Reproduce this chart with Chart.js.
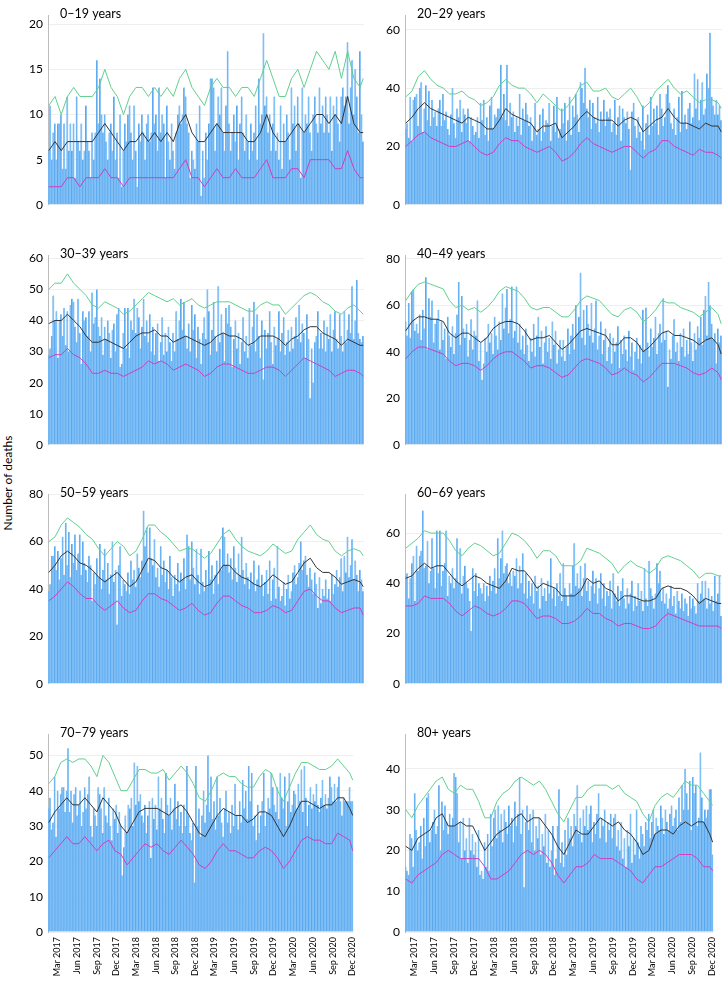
<!DOCTYPE html>
<html>
<head>
<meta charset="utf-8">
<script src="https://cdn.jsdelivr.net/npm/chart.js@4.4.0/dist/chart.umd.min.js"></script>
<style>
  body { margin: 0; background: #fff; width: 728px; height: 982px; position: relative; overflow: hidden; font-family: Lato, sans-serif; }
  .panel { position: absolute; }
  #ylab { position: absolute; left: -52px; top: 475px; width: 120px; height: 16px; line-height: 16px;
          text-align: center; font-size: 12px; color: #000; transform: rotate(-90deg); }
</style>
</head>
<body>
<div id="ylab">Number of deaths</div>
<script>
// weekly counts, first week starts 16 Jan 2017 (203 weeks)
const startDate = Date.UTC(2017, 0, 16)
const weekCount = 203

const ageGroups = ['0–19 years', '20–29 years', '30–39 years', '40–49 years',
                   '50–59 years', '60–69 years', '70–79 years', '80+ years']

const tickLabels = ['Mar 2017', 'Jun 2017', 'Sep 2017', 'Dec 2017', 'Mar 2018', 'Jun 2018', 'Sep 2018', 'Dec 2018',
                    'Mar 2019', 'Jun 2019', 'Sep 2019', 'Dec 2019', 'Mar 2020', 'Jun 2020', 'Sep 2020', 'Dec 2020']

// ---- 0–19
const deaths_0_19 = [
  6,11,5,8,9,5,9,9,10,4, 9,4,12,6,9,6,9,3,12,7, 6,9,5,6,11,7,6,3,8,5, 8,16,9,14,10,8,10,7,5,8,
  9,6,12,5,8,3,10,2,6,9, 7,10,11,8,5,11,6,2,9,7, 10,8,5,9,10,7,8,13,9,10, 6,13,8,10,9,3,11,7,5,9,
  6,4,8,10,11,9,10,13,12,9, 8,3,6,5,4,9,7,11,1,6, 3,8,5,9,14,14,13,6,9,12, 10,13,8,6,11,17,9,6,8,10,
  7,11,5,9,12,8,6,10,7,5, 9,6,8,11,5,14,9,10,19,11, 12,8,10,6,9,12,6,8,5,11, 4,9,7,10,8,5,13,9,11,6,
  12,9,3,13,8,10,9,12,8,6, 10,12,9,8,13,9,11,8,12,10, 8,12,6,11,10,12,9,7,12,13, 11,12,18,9,13,16,10,15,12,8,
  17,10,7]
const upper_0_19 = [11,12,10,12,13,12,12,12,13,15, 13,12,10,12,13,13,12,13,12,13, 12,14,15,13,12,11,13,14,13,13,
  12,13,13,12,14,16,14,12,12,14, 15,13,15,17,16,15,17,14,17,14, 13,14]
const median_0_19 = [6,7,6,7,7,7,7,7,8,9, 8,7,6,7,7,8,7,8,7,8, 7,9,10,8,7,7,8,9,8,8,
  8,8,7,7,8,10,8,7,7,8, 9,8,9,10,10,9,10,9,12,9, 8,8]
const lower_0_19 = [2,2,2,3,3,2,3,3,3,4, 3,3,2,3,3,3,3,3,3,3, 3,4,5,3,3,2,3,4,3,3,
  4,3,3,3,4,5,3,3,3,4, 4,3,5,5,5,5,4,4,6,4, 3,3]

// ---- 20–29
const deaths_20_29 = [
  26,28,23,37,22,36,37,38,27,40, 42,25,33,41,29,39,27,36,30,32, 27,33,36,27,38,29,32,26,24,31, 40,28,23,33,30,36,25,33,31,28,
  33,22,30,27,24,25,30,23,35,29, 36,24,30,22,34,37,26,31,30,33, 33,48,30,38,29,48,27,35,30,32, 25,30,27,38,24,33,29,35,31,27,
  30,22,27,35,24,26,31,22,33,25, 29,28,35,22,27,34,25,37,23,26, 33,28,35,22,29,37,24,34,30,38, 31,25,42,40,35,47,33,30,36,26,
  35,30,28,37,25,32,29,36,27,32, 30,33,25,28,36,24,30,34,22,33, 30,28,32,26,12,32,35,27,23,30, 25,22,34,19,28,31,24,37,27,33,
  28,34,24,38,33,27,30,38,41,35, 28,26,33,24,30,37,25,39,28,31, 26,33,35,28,30,45,33,43,29,36, 42,31,33,45,40,59,37,34,31,36,
  31,34,29]
const upper_20_29 = [37,39,44,46,43,41,40,38,38,39, 37,36,34,35,37,41,43,41,40,40, 38,35,38,36,34,32,34,37,41,42,
  39,39,40,37,36,38,40,37,33,35, 39,41,43,40,38,39,37,35,36,36, 35,33]
const median_20_29 = [28,30,33,35,33,32,31,30,29,28, 30,29,28,26,26,29,33,31,30,29, 28,25,27,27,28,23,25,27,30,32,
  30,29,29,29,27,29,30,29,25,27, 29,30,33,30,28,28,27,26,28,27, 27,25]
const lower_20_29 = [20,22,24,25,23,22,21,20,20,21, 22,20,18,17,18,21,23,22,22,20, 19,18,19,20,18,15,16,18,21,23,
  21,20,19,18,19,20,20,18,16,18, 19,22,22,20,19,18,17,19,18,18, 17,16]

// ---- 30–39
const deaths_30_39 = [
  29,31,35,48,40,43,28,40,42,35, 44,32,43,30,45,47,46,38,33,47, 36,26,43,40,41,35,43,30,49,39, 41,50,38,35,41,29,38,34,40,36,
  28,37,39,30,42,44,25,26,36,44, 31,44,28,40,37,47,36,44,41,31, 38,47,35,40,33,42,30,38,29,36, 39,27,33,41,29,36,30,38,33,27,
  36,30,43,34,40,47,37,46,35,31, 39,30,45,37,42,28,38,34,26,36, 41,34,50,43,29,37,46,35,30,51, 33,42,36,27,44,39,45,38,25,34,
  40,31,36,26,33,41,30,35,28,44, 32,38,46,30,42,35,28,40,21,37, 31,36,43,33,26,38,32,34,43,30, 36,41,29,33,37,30,38,31,35,41,
  34,45,33,39,36,28,42,34,15,31, 20,33,35,43,31,36,31,40,30,38, 34,42,30,37,43,34,31,42,35,30, 43,33,37,42,36,51,34,40,53,36,
  34,33,35]
const upper_30_39 = [50,52,52,55,52,50,48,45,44,46, 45,44,42,43,45,47,49,48,47,46, 47,45,46,47,45,44,45,46,46,46,
  45,44,43,43,45,46,45,45,42,44, 46,48,49,48,46,45,43,42,44,45, 43,42]
const median_30_39 = [39,40,40,42,40,38,35,33,33,34, 33,32,31,33,35,36,36,37,35,35, 33,34,35,34,33,32,33,35,36,35,
  35,34,32,33,35,35,35,34,32,34, 35,37,38,38,36,35,34,32,34,33, 32,32]
const lower_30_39 = [28,29,29,31,29,28,26,23,23,24, 23,23,22,23,24,25,27,26,27,26, 24,25,26,25,24,22,23,25,26,26,
  25,24,23,23,24,25,25,24,22,24, 26,28,27,26,25,24,22,23,24,24, 23,22]

// ---- 40–49
const deaths_40_49 = [
  53,47,61,46,66,67,49,52,48,56, 45,58,50,72,41,63,55,62,44,52, 54,58,41,53,45,50,37,55,47,42, 51,39,48,56,70,43,64,50,46,52,
  38,45,54,41,49,47,62,36,44,28, 35,46,40,52,44,48,39,55,47,41, 53,45,65,50,59,67,48,54,68,46, 49,68,44,52,41,47,39,50,43,36,
  46,40,52,38,47,55,42,49,35,44, 51,40,46,37,53,43,49,35,41,45, 38,45,36,42,50,39,47,52,41,60, 48,55,74,46,58,43,60,52,47,61,
  44,50,62,41,47,53,39,45,50,36, 42,48,35,46,40,44,51,33,45,39, 47,41,36,49,38,44,32,40,46,37, 43,35,58,41,59,44,38,50,42,46,
  55,39,48,52,44,63,45,49,25,41, 37,47,54,40,44,36,48,42,50,38, 45,39,53,44,36,48,41,51,46,55, 43,58,64,47,70,60,52,45,48,35,
  50,44,47]
const upper_40_49 = [62,66,69,70,69,68,67,62,59,60, 58,59,57,59,62,66,68,67,66,63, 59,58,59,59,57,55,55,58,62,64,
  63,62,59,56,55,58,59,57,53,55, 58,62,61,61,59,58,57,55,57,59, 56,52]
const median_40_49 = [49,53,55,55,54,54,53,48,46,48, 48,46,44,46,50,52,53,53,52,49, 45,46,46,47,44,41,43,46,49,50,
  49,48,47,43,43,46,46,44,40,42, 45,48,49,47,47,46,45,43,45,46, 43,39]
const lower_40_49 = [37,40,42,42,41,40,39,36,34,35, 35,34,32,34,37,39,40,40,38,36, 33,34,34,33,31,29,30,33,36,37,
  36,35,33,30,31,33,31,30,27,29, 32,35,35,35,34,33,31,30,31,33, 31,28]

// ---- 50–59
const deaths_50_59 = [
  39,42,54,54,58,48,56,44,53,62, 46,68,50,64,45,59,51,63,48,55, 63,46,60,51,48,43,54,50,35,47, 42,53,45,59,40,48,57,44,51,38,
  46,60,43,48,25,50,58,37,44,42, 39,47,38,52,44,48,41,55,49,45, 52,73,58,66,47,66,53,50,61,45, 49,41,58,46,52,43,48,40,54,45,
  37,46,42,51,39,47,44,53,40,63, 58,44,60,49,42,57,46,38,57,43, 39,48,41,56,44,50,38,46,52,42, 57,48,66,62,50,55,47,53,44,58,
  49,43,55,46,62,48,42,51,45,40, 47,43,52,39,44,50,41,46,37,43, 48,38,52,35,44,49,36,58,41,35, 37,43,33,40,46,36,39,47,50,42,
  45,51,60,48,52,54,46,41,49,44, 38,47,42,32,45,34,40,37,44,36, 40,35,46,38,42,48,41,45,53,39, 54,47,62,45,50,61,44,52,46,39,
  48,44,39]
const upper_50_59 = [60,62,67,70,68,66,63,61,57,54, 57,60,58,54,56,61,67,67,64,62, 59,56,57,57,55,53,55,59,63,65,
  61,58,56,55,54,56,59,57,55,56, 61,64,67,63,61,60,56,54,56,57, 56,54]
const median_50_59 = [47,50,54,56,54,51,50,48,45,43, 45,47,44,41,43,48,53,52,49,48, 45,43,45,46,43,41,42,46,50,50,
  47,45,44,42,41,43,46,44,42,43, 47,51,53,49,47,47,45,42,43,44, 43,41]
const lower_50_59 = [35,37,40,43,41,38,36,36,33,31, 33,35,32,30,31,35,38,38,36,35, 33,31,32,34,31,29,30,34,37,37,
  35,33,32,30,30,31,33,32,30,31, 35,39,40,37,35,35,32,30,31,32, 32,29]

// ---- 60–69
const deaths_60_69 = [
  43,44,34,42,48,51,33,55,45,51, 53,69,46,47,57,40,45,58,46,38, 61,44,61,39,45,48,61,35,43,40, 46,38,42,58,40,54,36,43,47,40,
  38,33,21,46,37,44,35,40,38,36, 40,33,39,35,43,37,41,46,36,58, 42,50,61,44,47,48,40,44,39,45, 43,50,38,47,40,52,36,44,34,41,
  35,40,32,43,37,39,30,42,35,38, 33,41,36,50,34,38,31,40,35,44, 33,48,38,35,31,40,36,47,56,39, 44,38,47,35,42,48,37,41,33,39,
  45,36,42,32,38,44,34,40,31,37, 35,41,30,44,36,33,39,31,37,42, 34,30,38,32,36,41,29,35,31,40, 33,37,29,46,34,31,49,38,35,30,
  36,48,40,45,33,38,32,36,30,34, 39,31,35,28,37,33,30,36,29,34, 32,27,35,30,34,31,28,40,33,36, 41,34,41,30,38,32,35,29,43,33,
  36,43,27]
const upper_60_69 = [54,56,58,61,60,60,60,57,53,51, 54,56,55,53,51,52,56,60,59,57, 54,50,53,53,51,47,47,47,49,54,
  53,52,50,48,44,47,49,47,46,44, 46,50,51,50,49,47,45,42,44,44, 43,43]
const median_60_69 = [42,43,46,48,46,47,47,44,41,39, 41,43,42,40,39,38,41,46,45,45, 42,38,40,39,38,35,35,35,37,42,
  40,41,38,37,33,35,35,34,33,33, 34,38,39,38,38,37,35,32,34,33, 32,32]
const lower_60_69 = [31,31,32,35,34,34,34,32,29,27, 29,31,30,28,27,28,30,33,33,32, 29,26,27,27,26,24,24,25,27,30,
  28,28,26,25,23,24,24,23,22,22, 23,26,28,27,26,25,24,23,23,23, 23,22]

// ---- 70–79
const deaths_70_79 = [
  35,38,29,31,44,27,40,35,39,41, 41,34,40,52,34,40,31,39,41,33, 36,40,30,34,41,35,39,44,30,27, 35,33,30,41,39,35,28,41,33,31,
  38,30,26,35,32,36,28,34,30,16, 24,33,28,36,35,38,30,48,36,47, 37,39,33,31,36,28,33,37,21,38, 32,36,29,44,35,38,32,28,45,36,
  33,38,29,35,42,32,37,30,34,28, 36,30,47,33,28,26,31,14,47,30, 35,27,33,40,31,36,50,34,44,32, 37,29,44,33,38,31,27,35,40,31,
  34,28,36,30,42,33,29,37,31,43, 35,40,32,47,37,45,30,33,26,36, 28,33,37,45,30,34,38,35,45,41, 36,34,41,32,45,38,35,44,30,37,
  45,34,36,40,39,35,42,37,46,34, 47,38,30,36,41,35,39,37,42,36, 34,38,43,36,39,35,38,44,41,37, 42,37,41,44,37,33,38,37,37,37,
  41,37,37]
const upper_70_79 = [42,44,48,49,48,49,49,47,44,50, 48,44,40,40,43,46,46,45,45,46, 43,45,47,45,42,38,37,40,44,45,
  44,44,42,41,41,44,46,45,40,37, 41,45,48,48,47,46,46,47,49,47, 45,43]
const median_70_79 = [31,34,36,38,36,36,38,36,34,38, 36,34,30,28,31,34,35,35,35,34, 33,35,36,34,31,28,27,30,33,35,
  34,33,33,31,32,34,34,33,30,27, 30,34,37,37,36,35,36,36,38,38, 35,33]
const lower_70_79 = [21,23,25,27,25,25,27,25,23,25, 26,23,22,19,21,23,25,24,25,23, 22,24,26,24,22,19,18,20,23,25,
  23,23,22,21,21,23,24,23,21,18, 20,23,26,27,26,26,25,25,28,27, 26,23]

// ---- 80+
const deaths_80 = [
  16,15,14,24,23,16,34,25,20,22, 26,18,28,21,33,34,22,25,27,30, 24,26,36,20,32,25,31,27,24,29, 26,28,39,38,34,22,27,18,28,20,
  23,17,28,20,24,19,22,16,25,14, 15,13,22,16,24,15,29,21,28,30, 23,31,25,29,22,30,27,24,31,26, 28,22,32,26,29,38,24,30,11,27,
  31,25,29,22,30,20,26,23,28,19, 24,21,29,17,25,16,20,26,14,18, 26,35,17,22,16,25,19,28,23,26, 21,29,26,36,24,28,22,30,26,31,
  25,29,31,22,27,24,29,34,23,28, 26,30,22,27,25,29,23,28,29,21, 25,20,27,18,23,16,25,21,29,17, 23,19,30,22,18,26,24,21,27,25,
  29,23,27,30,24,28,26,25,31,28, 24,30,27,25,29,31,26,28,30,25, 33,27,36,30,40,34,30,37,25,38, 34,36,26,28,44,33,27,30,28,30,
  35,35,19]
const upper_80 = [30,28,31,33,35,37,38,35,34,36, 35,35,32,28,28,32,34,35,37,38, 37,36,37,35,32,29,27,30,33,33,
  35,36,36,36,35,36,34,33,32,29, 27,31,33,34,33,35,37,36,36,34, 32,31]
const median_80 = [21,20,23,24,25,28,29,26,26,27, 26,26,23,20,22,24,25,26,28,29, 27,28,28,26,24,21,19,22,25,24,
  24,26,28,27,26,27,25,24,22,19, 20,24,25,25,24,26,27,26,27,27, 24,22]
const lower_80 = [13,12,14,15,16,17,19,20,19,18, 18,18,18,16,13,13,14,15,17,19, 20,19,20,19,17,14,12,14,16,16,
  17,19,18,18,18,17,16,15,13,12, 14,16,16,17,18,19,19,19,18,16, 16,15]

// line values are read every 4th week plus the last week
const lineWeeks = []
for (let w = 0; w <= 200; w += 4) lineWeeks.push(w)
lineWeeks.push(202)

const weeks = []
for (let i = 0; i < weekCount; i++) weeks.push(i)

// x position of the 1st of each labelled month, in week units
const tickPos = tickLabels.map((lab, k) => {
  const m = 2 + 3 * k
  const d = Date.UTC(2017 + Math.floor(m / 12), m % 12, 1)
  return (d - startDate) / (7 * 864e5) - 0.5
})

const panels = [
  { deaths: deaths_0_19, upper: upper_0_19, median: median_0_19, lower: lower_0_19, max: 21, step: 5 },
  { deaths: deaths_20_29, upper: upper_20_29, median: median_20_29, lower: lower_20_29, max: 65, step: 20 },
  { deaths: deaths_30_39, upper: upper_30_39, median: median_30_39, lower: lower_30_39, max: 61, step: 10 },
  { deaths: deaths_40_49, upper: upper_40_49, median: median_40_49, lower: lower_40_49, max: 81.5, step: 20 },
  { deaths: deaths_50_59, upper: upper_50_59, median: median_50_59, lower: lower_50_59, max: 80, step: 20 },
  { deaths: deaths_60_69, upper: upper_60_69, median: median_60_69, lower: lower_60_69, max: 75.5, step: 20 },
  { deaths: deaths_70_79, upper: upper_70_79, median: median_70_79, lower: lower_70_79, max: 56, step: 10 },
  { deaths: deaths_80, upper: upper_80, median: median_80, lower: lower_80, max: 48.5, step: 10 }
]

const plotTops = [13, 253, 492, 732]

// panel name written inside the plot, top left
const panelTitle = {
  id: 'panelTitle',
  afterDraw(chart, args, opts) {
    const { ctx, chartArea } = chart
    ctx.save()
    ctx.font = '12.5px Lato'
    ctx.fillStyle = '#000'
    ctx.textBaseline = 'middle'
    ctx.fillText(opts.text, chartArea.left + 12, chartArea.top - 1)
    ctx.restore()
  }
}

function lineSet(values, color) {
  return {
    type: 'line',
    data: lineWeeks.map((w, k) => ({ x: w, y: values[k] })),
    borderColor: color,
    borderWidth: 1,
    pointRadius: 0,
    tension: 0,
    order: 0
  }
}

panels.forEach((p, i) => {
  const col = i % 2
  const row = Math.floor(i / 2)
  const last = row === 3

  const div = document.createElement('div')
  div.className = 'panel'
  div.style.left = (col ? 360 : 0) + 'px'
  div.style.top = (plotTops[row] - 10) + 'px'
  div.style.width = '368px'
  div.style.height = (last ? 260 : 214) + 'px'
  const canvas = document.createElement('canvas')
  div.appendChild(canvas)
  document.body.appendChild(div)

  new Chart(canvas, {
    type: 'bar',
    data: {
      labels: weeks,
      datasets: [
        lineSet(p.upper, '#5fd08e'),
        lineSet(p.median, '#333333'),
        lineSet(p.lower, '#d13dbd'),
        {
          type: 'bar',
          data: p.deaths,
          backgroundColor: '#84c2f7',
          borderColor: '#3c97ea',
          borderWidth: { left: 0.6, right: 0, top: 0, bottom: 0 },
          borderSkipped: false,
          barPercentage: 1,
          categoryPercentage: 1,
          order: 1
        }
      ]
    },
    options: {
      responsive: true,
      maintainAspectRatio: false,
      animation: false,
      layout: { padding: { top: 10, right: col ? 6 : 4, bottom: 4, left: 0 } },
      plugins: {
        legend: { display: false },
        tooltip: { enabled: false },
        panelTitle: { text: ageGroups[i] }
      },
      scales: {
        x: {
          type: 'linear',
          min: -0.5,
          max: weekCount - 0.5,
          offset: false,
          display: last,
          grid: { display: false, drawTicks: false },
          border: { display: false },
          afterBuildTicks: s => { s.ticks = tickPos.map(v => ({ value: v })) },
          afterFit: s => { if (last) s.height = 46 },
          ticks: {
            autoSkip: false,
            maxRotation: 90,
            minRotation: 90,
            padding: 5,
            color: '#000',
            font: { family: 'Lato', size: 9 },
            callback: (v, k) => tickLabels[k]
          }
        },
        y: {
          min: 0,
          max: p.max,
          afterBuildTicks: s => {
            const t = []
            for (let v = 0; v <= p.max; v += p.step) t.push({ value: v })
            s.ticks = t
          },
          afterFit: s => { s.width = col ? 45 : 48 },
          grid: { color: '#efefef', drawTicks: false },
          border: { color: '#bdbdbd' },
          ticks: { padding: 5, color: '#000', font: { family: 'Lato', size: 12 } }
        }
      }
    },
    plugins: [panelTitle]
  })
})
</script>
</body>
</html>
